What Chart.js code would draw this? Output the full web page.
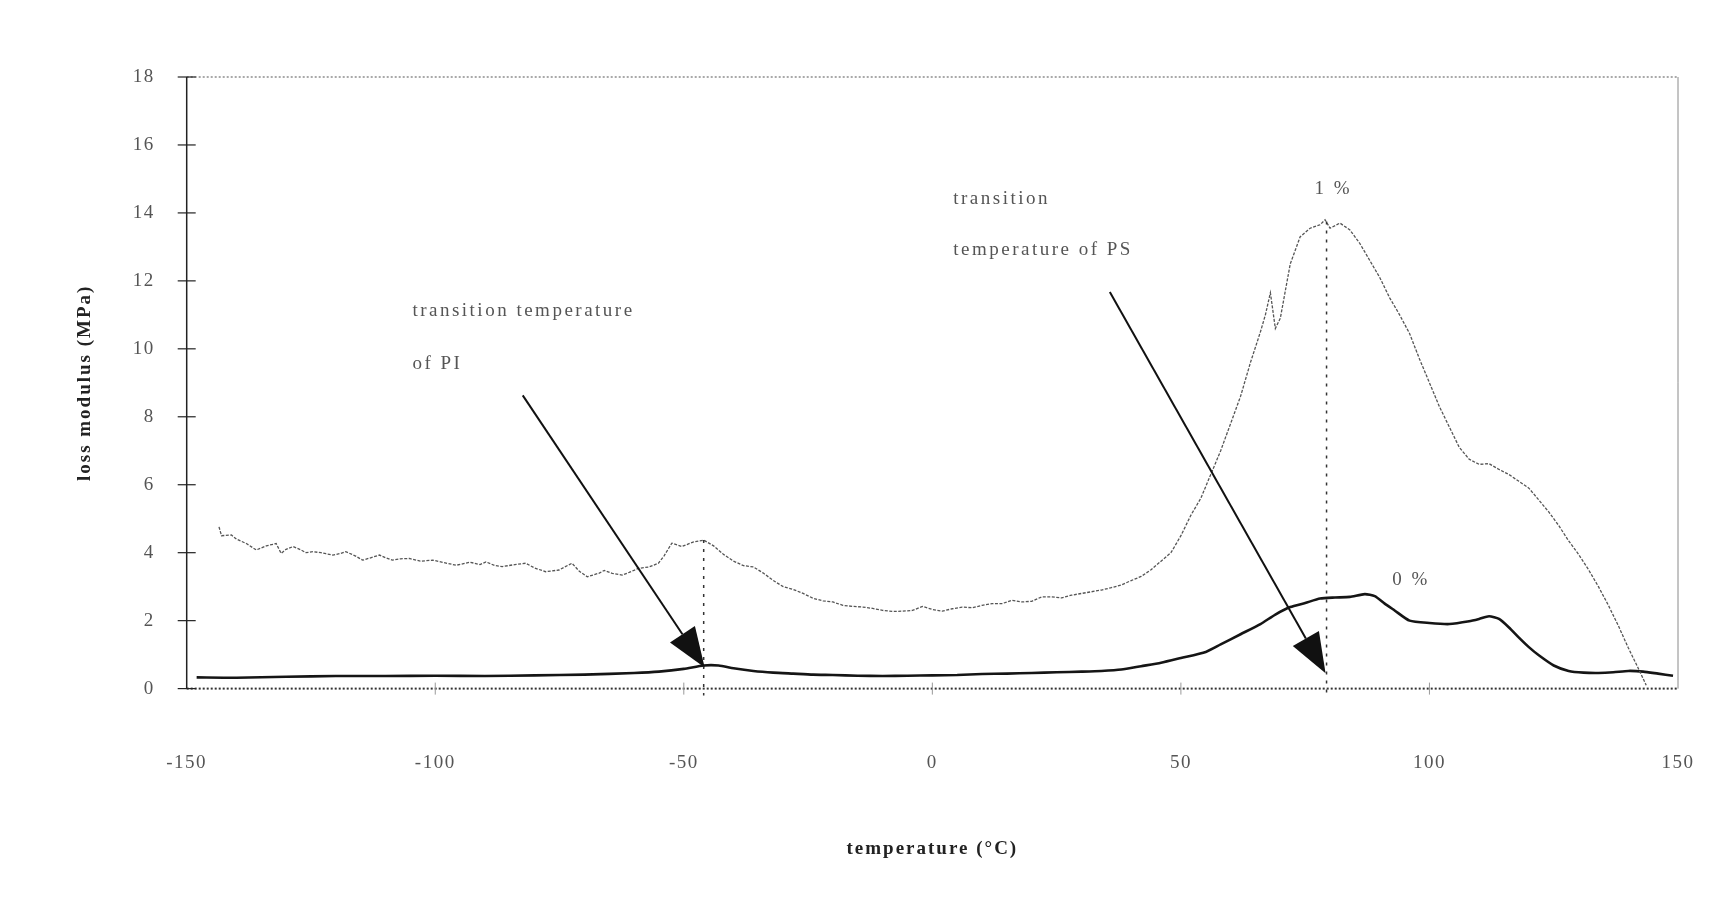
<!DOCTYPE html>
<html>
<head>
<meta charset="utf-8">
<script src="https://cdn.jsdelivr.net/npm/chart.js@4.4.0/dist/chart.umd.min.js"></script>
<style>
  html, body { margin: 0; padding: 0; background: #fff; }
  canvas { display: block; }
</style>
</head>
<body>
<canvas id="chart" width="1722" height="906"></canvas>
<script>
// ---- data ----
const temps1 = [-143.5,-143,-141,-140,-138,-136,-134,-132,-131,-130,-128.6,-127,-126,-124.6,-123,-122,-120.6,-119,-118,-116,-114.6,-113,-111.2,-110,-108.6,-107,-105.2,-103,-100.5,-98,-95.8,-93,-91,-89.8,-88,-86.5,-84,-81.8,-80,-77.8,-75.1,-72.5,-71,-69.4,-67,-66,-64.4,-62.4,-61,-59.1,-57,-55.1,-54,-52.4,-50.4,-48,-46,-44,-42,-40,-38,-36,-34,-32,-30,-28,-26,-24,-22,-20,-18,-16,-14,-12,-10,-8,-6,-4,-2,0,2,4,6,8,10,12,14,16,18,20,22,24,26,28,30,32,34,36,38,40,42,44,46,48,50,52,54,56,58,60,62,64,66,67,68,69,70,72,74,76,78,79,80,82,84,86,88,90,92,94,96,98,100,102,104,106,108,110,112,114,116,118,120,122,124,126,128,130,132,134,136,138,140,142,143.6];
const vals1 = [4.76,4.5,4.52,4.4,4.27,4.08,4.2,4.27,3.98,4.1,4.18,4.08,4.0,4.03,4.0,3.97,3.93,3.98,4.03,3.9,3.78,3.85,3.93,3.85,3.78,3.82,3.83,3.75,3.78,3.7,3.63,3.72,3.65,3.73,3.62,3.59,3.65,3.69,3.55,3.44,3.49,3.69,3.45,3.29,3.4,3.48,3.39,3.34,3.42,3.54,3.58,3.69,3.9,4.28,4.18,4.32,4.37,4.2,3.95,3.75,3.62,3.58,3.4,3.18,3.0,2.92,2.8,2.66,2.58,2.55,2.45,2.42,2.4,2.36,2.3,2.27,2.28,2.3,2.42,2.33,2.28,2.35,2.4,2.38,2.45,2.5,2.5,2.6,2.55,2.57,2.7,2.7,2.67,2.75,2.8,2.85,2.9,2.97,3.05,3.18,3.3,3.5,3.75,4.0,4.5,5.1,5.6,6.3,7.0,7.8,8.6,9.6,10.5,11.0,11.65,10.6,10.9,12.5,13.3,13.55,13.65,13.8,13.55,13.7,13.5,13.1,12.6,12.1,11.5,11.0,10.45,9.7,9.0,8.3,7.7,7.1,6.75,6.6,6.62,6.45,6.3,6.1,5.9,5.55,5.2,4.8,4.35,3.95,3.5,3.0,2.45,1.85,1.2,0.6,0.1];

const temps0 = [-148,-140,-130,-120,-110,-100,-90,-80,-70,-60,-55,-50,-46,-43,-40,-36,-32,-28,-24,-20,-15,-10,-5,0,5,10,15,20,25,30,34,38,42,46,50,55,58,62,66,69,72,75,78,81,84,87,89,91,93,96,100,104,108,110,112,114,116,118,120,122,125,128,131,134,137,140,143,146,149];
const vals0 = [0.33,0.32,0.35,0.37,0.37,0.38,0.37,0.39,0.41,0.46,0.5,0.58,0.68,0.68,0.6,0.52,0.47,0.44,0.41,0.40,0.38,0.37,0.38,0.39,0.40,0.43,0.44,0.46,0.48,0.5,0.52,0.56,0.66,0.76,0.9,1.08,1.3,1.6,1.9,2.18,2.4,2.52,2.65,2.68,2.7,2.78,2.72,2.5,2.3,2.0,1.93,1.9,1.98,2.05,2.13,2.05,1.8,1.5,1.22,0.98,0.68,0.52,0.47,0.46,0.48,0.52,0.5,0.44,0.38];

const xTicks = [-150, -100, -50, 0, 50, 100, 150];
const yTicks = [0, 2, 4, 6, 8, 10, 12, 14, 16, 18];

// transition markers (temperature, top of the dashed drop line)
const markers = [
  { t: -46, top: 4.37 },
  { t: 79.3, top: 13.75 }
];

// ================= ANNOTATIONS =================
const notes = [
  { text: "transition temperature", x: -104.6, y: 11.1 },
  { text: "of PI", x: -104.6, y: 9.55 },
  { text: "transition", x: 4.2, y: 14.4 },
  { text: "temperature of PS", x: 4.2, y: 12.9 },
  { text: "1 %", x: 76.9, y: 14.7 },
  { text: "0 %", x: 92.5, y: 3.2 }
];
const arrows = [
  { from: [-82.4, 8.63], to: [-45.8, 0.62] },
  { from: [35.7, 11.67], to: [79.1, 0.45] }
];

const serif = "'Liberation Serif', 'DejaVu Serif', serif";

function seg(ctx, x1, y1, x2, y2) {
  ctx.beginPath();
  ctx.moveTo(x1, y1);
  ctx.lineTo(x2, y2);
  ctx.stroke();
}

const decor = {
  id: "decor",
  beforeDraw(chart) {
    chart.ctx.letterSpacing = "1.5px";
  },
  beforeDatasetsDraw(chart) {
    const { ctx, chartArea: a, scales: { x, y } } = chart;
    ctx.save();
    // right border
    ctx.strokeStyle = "#8a8a8a";
    ctx.lineWidth = 1;
    seg(ctx, a.right, a.top, a.right, a.bottom);
    // top border, dotted
    ctx.setLineDash([2, 2]);
    ctx.strokeStyle = "#555";
    seg(ctx, a.left, a.top, a.right, a.top);
    // zero line, dotted
    ctx.lineWidth = 2;
    ctx.strokeStyle = "#333";
    seg(ctx, a.left, y.getPixelForValue(0), a.right, y.getPixelForValue(0));
    ctx.setLineDash([]);
    // left axis
    ctx.strokeStyle = "#222";
    ctx.lineWidth = 1.5;
    seg(ctx, a.left, a.top, a.left, a.bottom);
    // y ticks cross the axis
    ctx.lineWidth = 1.2;
    yTicks.forEach(v => {
      const py = y.getPixelForValue(v);
      seg(ctx, a.left - 9, py, a.left + 9, py);
    });
    // x ticks, faint
    ctx.strokeStyle = "#999";
    ctx.lineWidth = 1;
    xTicks.slice(1, -1).forEach(v => {
      const px = x.getPixelForValue(v);
      seg(ctx, px, a.bottom - 6, px, a.bottom + 6);
    });
    ctx.restore();
  },
  afterDatasetsDraw(chart) {
    const { ctx, chartArea: a, scales: { x, y } } = chart;
    ctx.save();

    // dashed drop lines at the transitions
    ctx.strokeStyle = "#333";
    ctx.lineWidth = 1.5;
    ctx.setLineDash([3, 6]);
    markers.forEach(m => {
      const px = x.getPixelForValue(m.t);
      seg(ctx, px, y.getPixelForValue(m.top), px, y.getPixelForValue(-0.2));
    });
    ctx.setLineDash([]);

    // arrows
    arrows.forEach(ar => {
      const x1 = x.getPixelForValue(ar.from[0]), y1 = y.getPixelForValue(ar.from[1]);
      const x2 = x.getPixelForValue(ar.to[0]), y2 = y.getPixelForValue(ar.to[1]);
      const ang = Math.atan2(y2 - y1, x2 - x1);
      const len = 40, half = 15;
      const bx = x2 - len * Math.cos(ang), by = y2 - len * Math.sin(ang);
      ctx.strokeStyle = "#111";
      ctx.lineWidth = 2;
      seg(ctx, x1, y1, bx, by);
      ctx.fillStyle = "#111";
      ctx.beginPath();
      ctx.moveTo(x2, y2);
      ctx.lineTo(bx + half * Math.sin(ang), by - half * Math.cos(ang));
      ctx.lineTo(bx - half * Math.sin(ang), by + half * Math.cos(ang));
      ctx.closePath();
      ctx.fill();
    });

    // text notes
    ctx.letterSpacing = "2.5px";
    ctx.font = "19px " + serif;
    ctx.fillStyle = "#555";
    ctx.textAlign = "left";
    ctx.textBaseline = "middle";
    notes.forEach(n => {
      ctx.fillText(n.text, x.getPixelForValue(n.x), y.getPixelForValue(n.y));
    });

    // axis titles
    ctx.letterSpacing = "2px";
    ctx.font = "bold 19px " + serif;
    ctx.fillStyle = "#222";
    ctx.textAlign = "center";
    ctx.fillText("temperature (°C)", (a.left + a.right) / 2, 849);
    ctx.save();
    ctx.translate(85, (a.top + a.bottom) / 2);
    ctx.rotate(-Math.PI / 2);
    ctx.fillText("loss modulus (MPa)", 0, 0);
    ctx.restore();

    ctx.restore();
  }
};

const pts = (xs, ys) => xs.map((t, i) => ({ x: t, y: ys[i] }));
const tickFont = { family: serif, size: 19 };

new Chart(document.getElementById("chart").getContext("2d"), {
  type: "line",
  data: {
    datasets: [
      { label: "1 %", data: pts(temps1, vals1), borderColor: "#555", borderWidth: 1.3, borderDash: [3, 1.5], pointRadius: 0, tension: 0, fill: false },
      { label: "0 %", data: pts(temps0, vals0), borderColor: "#151515", borderWidth: 2.6, pointRadius: 0, tension: 0.2, fill: false }
    ]
  },
  options: {
    responsive: false,
    devicePixelRatio: 1,
    animation: false,
    layout: { padding: { top: 77, right: 44, left: 0, bottom: 0 } },
    plugins: { legend: { display: false }, tooltip: { enabled: false } },
    scales: {
      x: {
        type: "linear", min: -150, max: 150,
        ticks: { stepSize: 50, padding: 55, color: "#555", font: tickFont, maxRotation: 0 },
        grid: { display: false }, border: { display: false },
        afterFit: s => { s.height = 217.4; s.paddingLeft = 0; s.paddingRight = 0; }
      },
      y: {
        min: 0, max: 18,
        ticks: { stepSize: 2, padding: 24, color: "#555", font: tickFont },
        grid: { display: false }, border: { display: false },
        afterFit: s => { s.width = 186.7; }
      }
    }
  },
  plugins: [decor]
});
</script>
</body>
</html>
